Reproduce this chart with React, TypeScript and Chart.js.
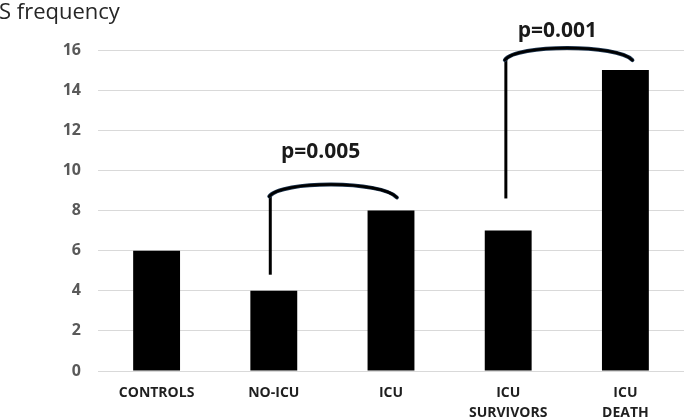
import React, { useEffect, useRef } from 'react';
import { Chart, registerables } from 'chart.js';

Chart.register(...registerables);

const categories: string[][] = [['CONTROLS'], ['NO-ICU'], ['ICU'], ['ICU', 'SURVIVORS'], ['ICU', 'DEATH']];
const values: number[] = [6, 4, 8, 7, 15];
const yMin = 0;
const yMax = 16;
const yStep = 2;
const axisTitle = 'S frequency';

// significance brackets (in data units: category index / value)
const bracketLabels: string[] = ['p=0.005', 'p=0.001'];
const bracketStart: number[] = [0.97, 2.98];
const bracketEnd: number[] = [2.05, 4.06];
const bracketLow: number[] = [4.8, 8.6];
const bracketHigh: number[] = [8.7, 15.5];
const bracketPeak: number[] = [9.3, 16.1];
const bracketEndValue: number[] = [8.65, 15.5];
const bracketLabelX: number[] = [1.4, 3.42];
const bracketLabelY: number[] = [10.9, 16.95];

const annotationPlugin = {
  id: 'annotations',
  afterDraw(chart: any) {
    const ctx = chart.ctx;
    const xs = chart.scales.x;
    const ys = chart.scales.y;
    ctx.save();
    // axis title
    ctx.fillStyle = '#262626';
    ctx.font = '22px "Open Sans"';
    ctx.textAlign = 'left';
    ctx.textBaseline = 'alphabetic';
    ctx.fillText(axisTitle, -1, 19);

    for (let i = 0; i < bracketLabels.length; i++) {
      const x0 = xs.getPixelForValue(bracketStart[i]);
      const x1 = xs.getPixelForValue(bracketEnd[i]);
      const yLow = ys.getPixelForValue(bracketLow[i]);
      const yHigh = ys.getPixelForValue(bracketHigh[i]);
      const yPeak = ys.getPixelForValue(bracketPeak[i]);
      const yEnd = ys.getPixelForValue(bracketEndValue[i]);
      // vertical line
      ctx.strokeStyle = '#000';
      ctx.lineWidth = 3;
      ctx.lineCap = 'butt';
      ctx.beginPath();
      ctx.moveTo(x0, yLow);
      ctx.lineTo(x0, yHigh);
      ctx.stroke();
      // arc
      const cy = yHigh - (yHigh - yPeak) / 0.75;
      const w = x1 - x0;
      const drawArc = () => {
        ctx.beginPath();
        ctx.moveTo(x0 - 1, yHigh);
        ctx.bezierCurveTo(x0 + w * 0.08, cy, x1 - w * 0.12, cy, x1, yEnd);
        ctx.stroke();
      };
      ctx.lineCap = 'round';
      ctx.strokeStyle = '#1d3550';
      ctx.lineWidth = 4;
      drawArc();
      ctx.strokeStyle = '#000';
      ctx.lineWidth = 2.6;
      drawArc();
      // label
      ctx.fillStyle = '#1a1a1a';
      ctx.font = 'bold 21px "Open Sans"';
      ctx.textAlign = 'center';
      ctx.textBaseline = 'middle';
      ctx.fillText(bracketLabels[i], xs.getPixelForValue(bracketLabelX[i]), ys.getPixelForValue(bracketLabelY[i]));
    }
    ctx.restore();
  },
};

export default function App() {
  const ref = useRef<HTMLCanvasElement | null>(null);
  useEffect(() => {
    if (!ref.current) return;
    const chart = new Chart(ref.current, {
      type: 'bar',
      data: {
        labels: categories as any,
        datasets: [
          {
            data: values,
            backgroundColor: '#000000',
            borderWidth: 0,
            barPercentage: 0.4,
            categoryPercentage: 1,
          },
        ],
      },
      options: {
        animation: false,
        responsive: true,
        maintainAspectRatio: false,
        layout: { padding: { top: 50, right: 1, left: 0, bottom: 0 } },
        plugins: {
          legend: { display: false },
          tooltip: { enabled: false },
          title: { display: false },
        },
        scales: {
          x: {
            grid: { display: false },
            border: { display: false },
            ticks: {
              color: '#1f1f1f',
              font: { family: 'Open Sans', weight: 'bold', size: 14, lineHeight: 1.45 },
              padding: 4,
              maxRotation: 0,
              autoSkip: false,
            },
            afterFit: (s: any) => {
              s.height = 47;
            },
          },
          y: {
            min: yMin,
            max: yMax,
            grid: { color: '#d9d9d9', lineWidth: 1, drawTicks: false },
            border: { display: false },
            ticks: {
              stepSize: yStep,
              color: '#595959',
              font: { family: 'Open Sans', weight: 'bold', size: 16 },
              padding: 17,
            },
            afterFit: (s: any) => {
              s.width = 98;
            },
          },
        },
      },
      plugins: [annotationPlugin],
    });
    return () => chart.destroy();
  }, []);
  return (
    <div style={{ position: 'absolute', left: 0, top: 0, width: 685, height: 418 }}>
      <canvas ref={ref} />
    </div>
  );
}
